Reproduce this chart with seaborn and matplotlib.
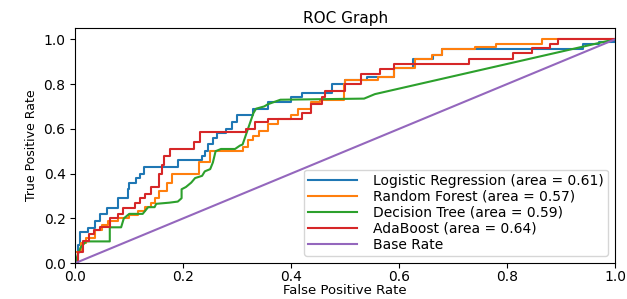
import matplotlib
matplotlib.use("Agg")
import matplotlib.pyplot as plt
import seaborn as sns
import numpy as np
import pandas as pd

# ---- ROC data ----
# step curves: (fpr where a level starts, tpr of that level)
lr_fpr = [0, 0.005, 0.009, 0.024, 0.037, 0.045, 0.058, 0.079, 0.097, 0.10, 0.113, 0.12,
          0.128, 0.19, 0.234, 0.24, 0.245, 0.255, 0.262, 0.28, 0.29, 0.30, 0.33, 0.357,
          0.40, 0.42, 0.476, 0.50, 0.54, 0.59, 0.626, 0.663, 0.68, 0.94, 0.97, 1.0]
lr_tpr = [0, 0.08, 0.14, 0.155, 0.19, 0.22, 0.245, 0.29, 0.33, 0.36, 0.38, 0.40,
          0.43, 0.46, 0.48, 0.50, 0.53, 0.56, 0.58, 0.60, 0.63, 0.66, 0.69, 0.72,
          0.74, 0.76, 0.80, 0.82, 0.83, 0.87, 0.91, 0.93, 0.955, 0.98, 0.99, 1.0]

rf_fpr = [0, 0, 0.01, 0.02, 0.037, 0.05, 0.06, 0.08, 0.10, 0.117, 0.13, 0.14, 0.147,
          0.155, 0.17, 0.18, 0.23, 0.25, 0.31, 0.32, 0.33, 0.34, 0.357, 0.375, 0.40,
          0.413, 0.436, 0.454, 0.498, 0.50, 0.56, 0.59, 0.63, 0.66, 0.68, 0.74, 0.78,
          0.865, 1.0]
rf_tpr = [0, 0.05, 0.09, 0.11, 0.15, 0.17, 0.19, 0.20, 0.215, 0.235, 0.25, 0.27, 0.29,
          0.32, 0.36, 0.40, 0.45, 0.50, 0.52, 0.55, 0.57, 0.59, 0.62, 0.645, 0.66,
          0.69, 0.72, 0.73, 0.80, 0.82, 0.83, 0.87, 0.91, 0.93, 0.955, 0.965, 0.98,
          1.0, 1.0]

ada_fpr = [0, 0.005, 0.015, 0.025, 0.035, 0.046, 0.064, 0.079, 0.088, 0.11, 0.12, 0.13,
           0.14, 0.155, 0.16, 0.165, 0.175, 0.22, 0.232, 0.317, 0.333, 0.357, 0.42,
           0.436, 0.458, 0.462, 0.50, 0.53, 0.564, 0.59, 0.73, 0.81, 0.846, 0.88,
           0.894, 1.0]
ada_tpr = [0, 0.05, 0.10, 0.13, 0.15, 0.16, 0.20, 0.22, 0.245, 0.27, 0.29, 0.31,
           0.34, 0.40, 0.44, 0.48, 0.51, 0.54, 0.585, 0.60, 0.63, 0.645, 0.67,
           0.71, 0.74, 0.77, 0.80, 0.845, 0.867, 0.89, 0.91, 0.94, 0.96, 0.98,
           1.0, 1.0]

# decision tree: plain vertices (has sloped parts)
dt_fpr = [0, 0.005, 0.01, 0.02, 0.064, 0.064, 0.085, 0.09, 0.10, 0.125, 0.13, 0.135,
          0.147, 0.15, 0.174, 0.19, 0.197, 0.197, 0.205, 0.215, 0.222, 0.235, 0.24,
          0.25, 0.255, 0.26, 0.27, 0.296, 0.305, 0.31, 0.33, 0.335, 0.35, 0.357,
          0.38, 0.535, 0.555, 1.0]
dt_tpr = [0, 0.04, 0.07, 0.097, 0.097, 0.16, 0.16, 0.20, 0.22, 0.22, 0.235, 0.25,
          0.25, 0.265, 0.27, 0.275, 0.29, 0.33, 0.34, 0.36, 0.38, 0.39, 0.41,
          0.42, 0.45, 0.50, 0.51, 0.51, 0.525, 0.53, 0.67, 0.69, 0.70, 0.71,
          0.73, 0.735, 0.755, 1.0]

base_fpr = [0, 1]
base_tpr = [0, 1]

labels = ['Logistic Regression (area = 0.61)', 'Random Forest (area = 0.57)',
          'Decision Tree (area = 0.59)', 'AdaBoost (area = 0.64)', 'Base Rate']
colors = ['#1f77b4', '#ff7f0e', '#2ca02c', '#d62728', '#9467bd']


def steps(xs, ys):
    # turn level starts into corner points (up, then across)
    px, py = [xs[0]], [ys[0]]
    for i in range(1, len(xs)):
        px += [xs[i], xs[i]]
        py += [ys[i - 1], ys[i]]
    return px, py


curves = [steps(lr_fpr, lr_tpr), steps(rf_fpr, rf_tpr), (dt_fpr, dt_tpr),
          steps(ada_fpr, ada_tpr), (base_fpr, base_tpr)]

fig, ax = plt.subplots(figsize=(6.27, 2.99), dpi=100)
fig.subplots_adjust(left=0.12, right=0.981, bottom=0.12, top=0.906)

for (x, y), lab, col in zip(curves, labels, colors):
    df = pd.DataFrame({'fpr': x, 'tpr': y})
    sns.lineplot(data=df, x='fpr', y='tpr', sort=False, estimator=None,
                 color=col, label=lab, linewidth=1.5, ax=ax)

ax.set_xlim(0.0, 1.0)
ax.set_ylim(0.0, 1.05)
ax.set_xticks(np.arange(0, 1.01, 0.2))
ax.set_yticks(np.arange(0, 1.01, 0.2))
ax.tick_params(labelsize=10)
ax.tick_params(axis='x', pad=1.5)
ax.set_xlabel('False Positive Rate', fontsize=9.5, labelpad=0)
ax.set_ylabel('True Positive Rate', fontsize=9)
ax.set_title('ROC Graph', fontsize=11, pad=4)
ax.legend(loc='lower right', fontsize=10, handlelength=3.5, handletextpad=1.2,
          labelspacing=0.15, borderpad=0.3)

fig.savefig('out.png', dpi=100)
